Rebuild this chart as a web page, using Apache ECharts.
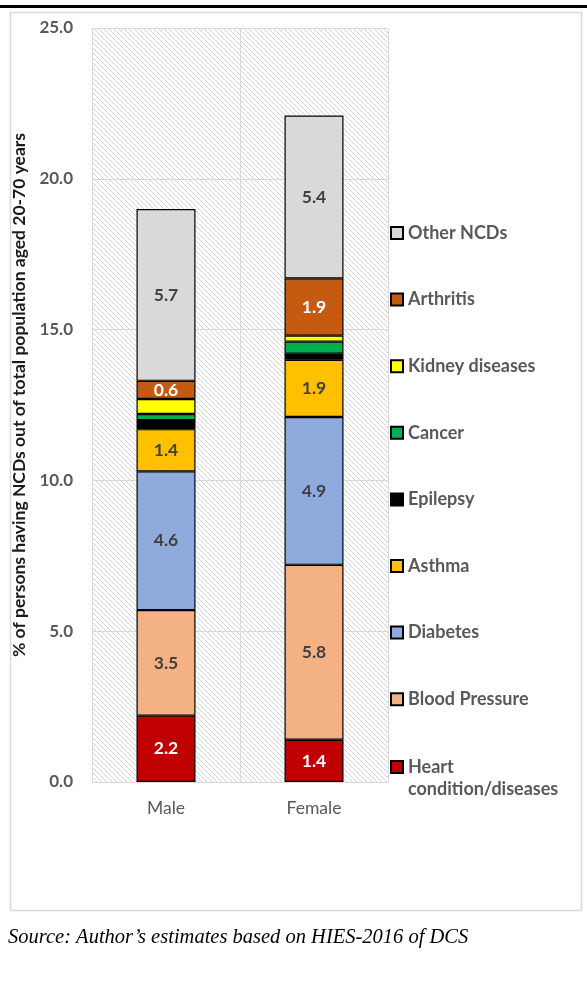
<!DOCTYPE html>
<html>
<head>
<meta charset="utf-8">
<script src="https://cdn.jsdelivr.net/npm/echarts@6/dist/echarts.min.js"></script>
<style>
  html, body { margin: 0; padding: 0; background: #ffffff; }
  #chart { width: 587px; height: 983px; }
</style>
</head>
<body>
<div id="chart"></div>
<script>
// Share of persons aged 20-70 having each NCD, by sex (%)
const categories = ['Male', 'Female'];
const heart = [2.2, 1.4];
const bloodPressure = [3.5, 5.8];
const diabetes = [4.6, 4.9];
const asthma = [1.4, 1.9];
const epilepsy = [0.3, 0.2];
const cancer = [0.2, 0.4];
const kidney = [0.5, 0.2];
const arthritis = [0.6, 1.9];
const otherNcds = [5.7, 5.4];

// y-axis ticks: 0.0 to 25.0 every 5.0
const yMin = 0;
const yMax = 25;
const yStep = 5;

// Diagonal light hatching used behind the bars
function makeHatch() {
  const s = 5;
  const c = document.createElement('canvas');
  c.width = s; c.height = s;
  const g = c.getContext('2d');
  g.fillStyle = '#ffffff';
  g.fillRect(0, 0, s, s);
  g.strokeStyle = '#d2d2d2';
  g.lineWidth = 1;
  g.beginPath();
  g.moveTo(-1, -1); g.lineTo(s + 1, s + 1);
  g.moveTo(-1, s - 1); g.lineTo(1, s + 1);
  g.moveTo(s - 1, -1); g.lineTo(s + 1, 1);
  g.stroke();
  return c;
}

const FONT = 'Lato';
const DARK_LABEL = '#404040';
const HEART = 'Heart condition/diseases';

// stack order from the bottom of the bar upwards
const layers = [
  { name: HEART, data: heart, color: '#c00000', label: true, labelColor: '#ffffff' },
  { name: 'Blood Pressure', data: bloodPressure, color: '#f4b183', label: true, labelColor: DARK_LABEL },
  { name: 'Diabetes', data: diabetes, color: '#8faadc', label: true, labelColor: DARK_LABEL },
  { name: 'Asthma', data: asthma, color: '#ffc000', label: true, labelColor: DARK_LABEL },
  { name: 'Epilepsy', data: epilepsy, color: '#000000', label: false },
  { name: 'Cancer', data: cancer, color: '#00b050', label: false },
  { name: 'Kidney diseases', data: kidney, color: '#ffff00', label: false },
  { name: 'Arthritis', data: arthritis, color: '#c55a11', label: true, labelColor: '#ffffff' },
  { name: 'Other NCDs', data: otherNcds, color: '#d9d9d9', label: true, labelColor: DARK_LABEL }
];

const series = layers.map(l => ({
  name: l.name,
  type: 'bar',
  stack: 'ncd',
  barWidth: 59,
  data: l.data,
  itemStyle: { color: l.color, borderColor: '#000000', borderWidth: 1.2 },
  label: {
    show: l.label,
    position: 'inside',
    formatter: p => p.value.toFixed(1),
    fontFamily: FONT,
    fontWeight: 'bold',
    fontSize: 17.5,
    color: l.labelColor || DARK_LABEL
  },
  emphasis: { disabled: true }
}));

// legend lists the layers from the top of the stack down
const legendNames = layers.slice().reverse().map(l => l.name);
const legendText = { fontFamily: FONT, fontWeight: 'bold', fontSize: 18, color: '#595959', lineHeight: 22 };
const legendCommon = {
  orient: 'vertical',
  left: 385,
  itemWidth: 12,
  itemHeight: 12,
  icon: 'rect',
  selectedMode: false,
  textStyle: legendText
};

const chart = echarts.init(document.getElementById('chart'), null, { renderer: 'canvas' });

chart.setOption({
  animation: false,
  backgroundColor: '#ffffff',
  grid: {
    left: 92, right: 199, top: 28, bottom: 201,
    outerBoundsMode: 'none',
    containLabel: false,
    show: true,
    borderWidth: 0,
    backgroundColor: { image: makeHatch(), repeat: 'repeat' }
  },
  xAxis: {
    type: 'category',
    data: categories,
    axisLine: { show: true, lineStyle: { color: '#d9d9d9' } },
    axisTick: { show: false },
    splitLine: { show: true, lineStyle: { color: '#d9d9d9', width: 1 } },
    axisLabel: { fontFamily: FONT, fontSize: 17.5, color: '#595959', margin: 17 }
  },
  yAxis: {
    type: 'value',
    min: yMin, max: yMax, interval: yStep,
    name: '% of persons having NCDs out of total population aged 20-70 years',
    nameLocation: 'middle',
    nameGap: 60,
    nameRotate: 90,
    nameTextStyle: {
      fontFamily: FONT, fontWeight: 'bold', fontSize: 17.5, color: '#1a1a1a',
      padding: [0, 0, 0, 20]
    },
    axisLine: { show: false },
    axisTick: { show: false },
    splitLine: { show: true, lineStyle: { color: '#d9d9d9', width: 1 } },
    axisLabel: {
      fontFamily: FONT, fontWeight: 'bold', fontSize: 17, color: '#595959', margin: 19,
      formatter: v => v.toFixed(1)
    }
  },
  legend: [
    Object.assign({}, legendCommon, {
      top: 217,
      itemGap: 44.6,
      data: legendNames.filter(n => n !== HEART)
    }),
    // two-line entry: the leading blank line keeps "Heart" level with its swatch
    Object.assign({}, legendCommon, {
      top: 729,
      formatter: () => '\nHeart\ncondition/diseases',
      data: [HEART]
    })
  ],
  graphic: [
    { type: 'rect', left: 0, top: 5, shape: { width: 587, height: 3 }, style: { fill: '#000000' }, silent: true },
    { type: 'rect', left: 8, top: 10, shape: { width: 571, height: 898 }, style: { fill: 'none', stroke: '#d9d9d9', lineWidth: 1.5 }, silent: true, z: -1 },
    {
      type: 'text', left: 8, top: 928,
      style: {
        text: 'Source: Author\u2019s estimates based on HIES-2016 of DCS',
        fontFamily: 'Liberation Serif', fontStyle: 'italic', fontSize: 20.5, fill: '#000000'
      },
      silent: true
    }
  ],
  series: series
});
</script>
</body>
</html>
